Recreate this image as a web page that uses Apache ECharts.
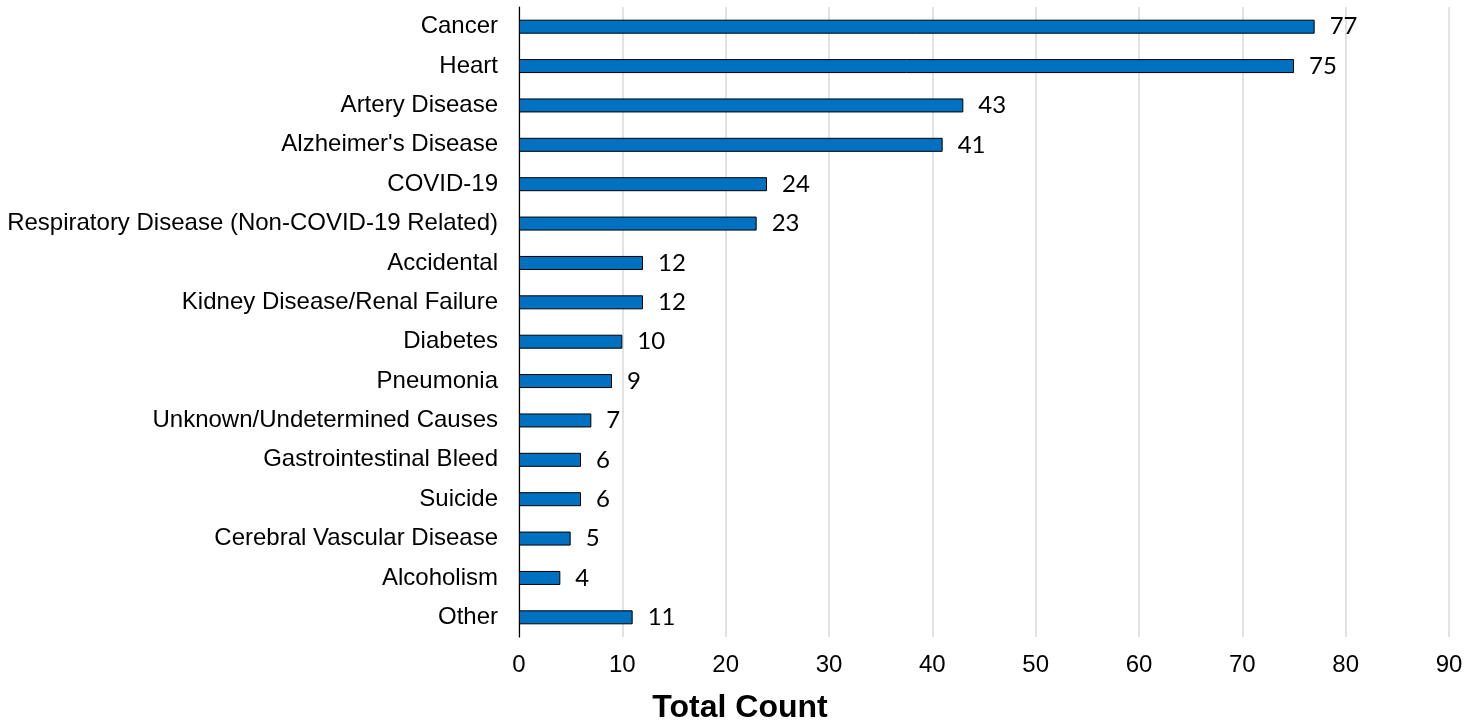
<!DOCTYPE html>
<html><head><meta charset="utf-8">
<script src="https://cdn.jsdelivr.net/npm/echarts@6/dist/echarts.min.js"></script>
<style>html,body{margin:0;padding:0;background:#fff}#c{width:1480px;height:723px}</style>
</head><body><div id="c"></div>
<script>
const categories = ["Cancer","Heart","Artery Disease","Alzheimer's Disease","COVID-19","Respiratory Disease (Non-COVID-19 Related)","Accidental","Kidney Disease/Renal Failure","Diabetes","Pneumonia","Unknown/Undetermined Causes","Gastrointestinal Bleed","Suicide","Cerebral Vascular Disease","Alcoholism","Other"];
const counts = [77,75,43,41,24,23,12,12,10,9,7,6,6,5,4,11];
const xTicks = {min:0, max:90, interval:10};
const chart = echarts.init(document.getElementById('c'));
chart.setOption({
  animation:false,
  title:{text:'Total Count', left:735, top:687, textAlign:'center',
    textStyle:{fontFamily:'Liberation Sans, Arial', fontSize:32, fontWeight:'bold', color:'#000'}},
  grid:{left:519, right:31, top:7, bottom:86, containLabel:false},
  xAxis:{type:'value', min:xTicks.min, max:xTicks.max, interval:xTicks.interval,
    axisLine:{show:false}, axisTick:{show:false},
    splitLine:{lineStyle:{color:'#d9d9d9', width:1.5}},
    axisLabel:{margin:16, fontFamily:'Liberation Sans, Arial', fontSize:24, color:'#000'}},
  yAxis:{type:'category', data:categories, inverse:true,
    axisLine:{lineStyle:{color:'#000', width:1.2}}, axisTick:{show:false},
    axisLabel:{margin:21, fontFamily:'Liberation Sans, Arial', fontSize:24, color:'#000'}},
  series:[{type:'bar', data:counts, barWidth:14,
    itemStyle:{color:'#0070C0', borderColor:'#000', borderWidth:1},
    label:{show:true, position:'right', distance:15, fontFamily:'Lato, DejaVu Sans', fontSize:24, color:'#000'}}]
});
</script></body></html>
